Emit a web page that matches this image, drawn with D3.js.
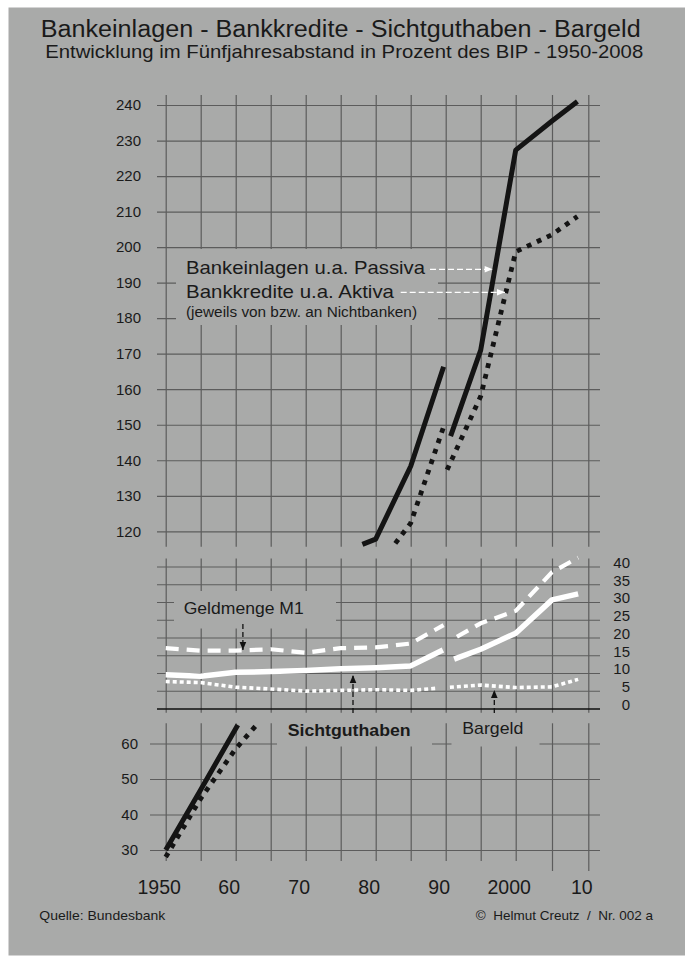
<!DOCTYPE html>
<html>
<head>
<meta charset="utf-8">
<script src="https://cdn.jsdelivr.net/npm/d3@7"></script>
<style>
  body { margin: 0; background: #fff; }
  svg { display: block; font-family: "Liberation Sans", Arial, sans-serif; }
  .grid line { stroke: #5c5c5c; stroke-width: 1.2; }
  .grid path { display: none; }
  .lbl text { fill: #1a1a1a; }
</style>
</head>
<body>
<script>
// tick labels
const gridYears = [1950, 1955, 1960, 1965, 1970, 1975, 1980, 1985, 1990, 1995, 2000, 2005, 2010];
const xLabelYears = [1950, 1960, 1970, 1980, 1990, 2000, 2010];
const xLabels = ["1950", "60", "70", "80", "90", "2000", "10"];
const topTicks = [120, 130, 140, 150, 160, 170, 180, 190, 200, 210, 220, 230, 240];
const midTicks = [0, 5, 10, 15, 20, 25, 30, 35, 40];
const lowTicks = [30, 40, 50, 60];

// Bankeinlagen (schwarz, durchgezogen) - oberer Teil, Bruch 1990
const einlagenJahre1 = [1978.1, 1980, 1985, 1989.7];
const einlagenWerte1 = [116.3, 117.8, 138.3, 166.3];
const einlagenJahre2 = [1990.7, 1995, 2000, 2005, 2008.5];
const einlagenWerte2 = [146.8, 171, 227.3, 235.5, 241];
// unterer Teil
const einlagenJahre0 = [1950, 1955, 1960.3];
const einlagenWerte0 = [30, 47, 65.2];

// Bankkredite (schwarz, gepunktet)
const krediteJahre1 = [1982.8, 1985, 1989.8];
const krediteWerte1 = [116.6, 122.3, 150];
const krediteJahre2 = [1990.2, 1995, 2000, 2005, 2008.5];
const krediteWerte2 = [137.3, 158, 198.7, 203.5, 208.6];
const krediteJahre0 = [1950, 1955, 1960, 1963];
const krediteWerte0 = [28, 44.5, 58.5, 65.3];

// Geldmenge M1 (weiss, gestrichelt)
const m1Jahre1 = [1950, 1955, 1960, 1965, 1970, 1975, 1980, 1985, 1989.7];
const m1Werte1 = [17, 16.3, 16.3, 16.7, 15.7, 17, 17.2, 18.3, 23.5];
const m1Jahre2 = [1991.6, 1995, 2000, 2005, 2008.6];
const m1Werte2 = [20.2, 24, 27.5, 38.4, 42.5];

// Sichtguthaben (weiss, durchgezogen)
const sichtJahre1 = [1950, 1955, 1960, 1965, 1970, 1975, 1980, 1985, 1989.6];
const sichtWerte1 = [9.5, 9.1, 10.2, 10.4, 10.7, 11.2, 11.5, 12, 16.5];
const sichtJahre2 = [1991.2, 1995, 2000, 2005, 2008.6];
const sichtWerte2 = [13.9, 16.7, 21.2, 30.6, 32.3];

// Bargeld (weiss, gepunktet)
const bargeldJahre1 = [1950, 1955, 1960, 1965, 1970, 1975, 1980, 1985, 1988.7];
const bargeldWerte1 = [7.6, 7.3, 6.0, 5.5, 4.9, 5.1, 5.3, 5.1, 5.7];
const bargeldJahre2 = [1990.6, 1995, 2000, 2005, 2008.6];
const bargeldWerte2 = [6.0, 6.6, 5.9, 6.1, 8.2];

const width = 685, height = 961;
const bg = "#a9aaa9";

const svg = d3.select("body").append("svg")
    .attr("width", width)
    .attr("height", height);

svg.append("rect")
    .attr("x", 8.5).attr("y", 7.5)
    .attr("width", width - 8.5).attr("height", 948)
    .attr("fill", bg);

const x = d3.scaleLinear()
    .domain([1950, 2000, 2010])
    .range([165.7, 515.7, 588.3]);

const yTop = d3.scaleLinear().domain([120, 240]).range([531.3, 105]);
const yMid = d3.scaleLinear().domain([0, 40]).range([708.5, 566.5]);
const yLow = d3.scaleLinear().domain([30, 60]).range([850, 743.5]);

// ---- grid: top panel
svg.append("g").attr("class", "grid")
    .attr("transform", "translate(0,95)")
    .call(d3.axisTop(x).tickValues(gridYears).tickSize(-(546.7 - 95)).tickFormat(""));

svg.append("g").attr("class", "grid lbl")
    .attr("transform", "translate(157,0)")
    .call(d3.axisLeft(yTop).tickValues(topTicks).tickSize(-443).tickPadding(16))
    .selectAll("text").style("font-size", "15px");

// ---- grid: middle panel
svg.append("g").attr("class", "grid")
    .attr("transform", "translate(0,558.5)")
    .call(d3.axisTop(x).tickValues(gridYears).tickSize(-(712.7 - 558.5)).tickFormat(""));

const midAxis = svg.append("g").attr("class", "grid lbl")
    .attr("transform", "translate(600,0)")
    .call(d3.axisRight(yMid).tickValues(midTicks).tickSize(-443).tickPadding(30));
midAxis.selectAll("text")
    .attr("text-anchor", "end").attr("dy", "0.05em")
    .style("font-size", "15px");
midAxis.selectAll(".tick").filter(d => d === 0).select("line")
    .style("stroke", "#111").style("stroke-width", 1.6);

// ---- grid: lower panel
svg.append("g").attr("class", "grid")
    .attr("transform", "translate(0,723.3)")
    .call(d3.axisTop(x).tickValues(gridYears)
        .tickSize(-(861 - 723.3)).tickFormat(""))
    .selectAll(".tick line")
    .attr("y2", d => d >= 2005 ? 871 - 723.3 : 861 - 723.3);

svg.append("g").attr("class", "grid lbl")
    .attr("transform", "translate(150,0)")
    .call(d3.axisLeft(yLow).tickValues(lowTicks).tickSize(-450).tickPadding(12))
    .selectAll("text").style("font-size", "15px");

const xAx = svg.append("g").attr("class", "lbl")
    .attr("transform", "translate(-7,877)")
    .call(d3.axisBottom(x).tickValues(xLabelYears).tickSize(0)
        .tickFormat((d, i) => xLabels[i]));
xAx.select(".domain").remove();
xAx.selectAll("text").style("font-size", "19.5px").attr("dy", "0.71em");

svg.selectAll(".lbl text").attr("font-family", null);

// ---- label boxes cut out of the grid
const boxes = [
    [176, 249, 262, 76],    // Legende oben
    [174, 591, 162, 37.5],  // Geldmenge M1
    [277, 718, 155, 28.5],  // Sichtguthaben
    [451.5, 718, 88, 28.5]  // Bargeld
];
svg.selectAll(".box").data(boxes).enter().append("rect")
    .attr("x", d => d[0]).attr("y", d => d[1])
    .attr("width", d => d[2]).attr("height", d => d[3])
    .attr("fill", bg);

// ---- lines
function draw(yScale, years, values, style) {
    const line = d3.line()
        .x(d => x(d[0]))
        .y(d => yScale(d[1]));
    const p = svg.append("path")
        .datum(d3.zip(years, values))
        .attr("d", line)
        .attr("fill", "none")
        .attr("stroke-linejoin", "round");
    Object.entries(style).forEach(([k, v]) => p.attr(k, v));
}

const blackSolid = {stroke: "#141414", "stroke-width": 5};
const blackDot = {stroke: "#141414", "stroke-width": 4.8, "stroke-dasharray": "4.8,6.2"};
const whiteSolid = {stroke: "#ffffff", "stroke-width": 5.5};
const whiteDash = {stroke: "#ffffff", "stroke-width": 4.2, "stroke-dasharray": "13,8"};
const whiteDot = {stroke: "#ffffff", "stroke-width": 3.6, "stroke-dasharray": "4,3"};

draw(yTop, einlagenJahre1, einlagenWerte1, blackSolid);
draw(yTop, einlagenJahre2, einlagenWerte2, blackSolid);
draw(yLow, einlagenJahre0, einlagenWerte0, blackSolid);
draw(yTop, krediteJahre1, krediteWerte1, blackDot);
draw(yTop, krediteJahre2, krediteWerte2, blackDot);
draw(yLow, krediteJahre0, krediteWerte0, blackDot);

draw(yMid, m1Jahre1, m1Werte1, whiteDash);
draw(yMid, m1Jahre2, m1Werte2, whiteDash);
draw(yMid, sichtJahre1, sichtWerte1, whiteSolid);
draw(yMid, sichtJahre2, sichtWerte2, whiteSolid);
draw(yMid, bargeldJahre1, bargeldWerte1, whiteDot);
draw(yMid, bargeldJahre2, bargeldWerte2, whiteDot);

// ---- arrows
function arrow(x1, y1, x2, y2, color, dash) {
    svg.append("line")
        .attr("x1", x1).attr("y1", y1).attr("x2", x2).attr("y2", y2)
        .attr("stroke", color).attr("stroke-width", 1.3)
        .attr("stroke-dasharray", dash);
    const a = Math.atan2(y2 - y1, x2 - x1) * 180 / Math.PI;
    svg.append("path")
        .attr("d", "M0,0 L-8,-3.3 L-8,3.3 Z")
        .attr("fill", color)
        .attr("transform", `translate(${x2},${y2}) rotate(${a})`);
}
arrow(430, 269.3, 492.7, 269.3, "#fff", "6,3");
arrow(400.7, 292.3, 505, 292.3, "#fff", "6,3");
arrow(242.9, 624, 242.9, 650, "#111", "5,3");
arrow(353, 713, 353, 675, "#111", "5,3");
arrow(494.3, 713, 494.3, 690, "#111", "5,3");

// ---- texts
function text(tx, ty, str, size, opts = {}) {
    const t = svg.append("text")
        .attr("x", tx).attr("y", ty)
        .attr("fill", "#1a1a1a")
        .style("font-size", size + "px")
        .style("white-space", "pre")
        .text(str);
    if (opts.anchor) t.attr("text-anchor", opts.anchor);
    if (opts.bold) t.attr("font-weight", "bold");
    if (opts.len) t.attr("textLength", opts.len).attr("lengthAdjust", "spacingAndGlyphs");
    return t;
}

text(340.7, 36.5, "Bankeinlagen - Bankkredite - Sichtguthaben - Bargeld", 23.5, {anchor: "middle", len: 600});
text(344.2, 58, "Entwicklung im Fünfjahresabstand in Prozent des BIP - 1950-2008", 18.5, {anchor: "middle", len: 598});

text(186, 274.3, "Bankeinlagen u.a. Passiva", 19, {len: 239});
text(186, 298.3, "Bankkredite u.a. Aktiva", 19, {len: 208});
text(186, 316.7, "(jeweils von bzw. an Nichtbanken)", 14, {len: 231});

text(183.7, 614, "Geldmenge M1", 17, {len: 120});
text(287.7, 735.7, "Sichtguthaben", 17, {bold: true, len: 123});
text(462.3, 734, "Bargeld", 17, {len: 61});

text(39.3, 920, "Quelle: Bundesbank", 13.5, {len: 126});
text(653, 920, "©  Helmut Creutz  /  Nr. 002 a", 13.5, {anchor: "end"});
</script>
</body>
</html>
